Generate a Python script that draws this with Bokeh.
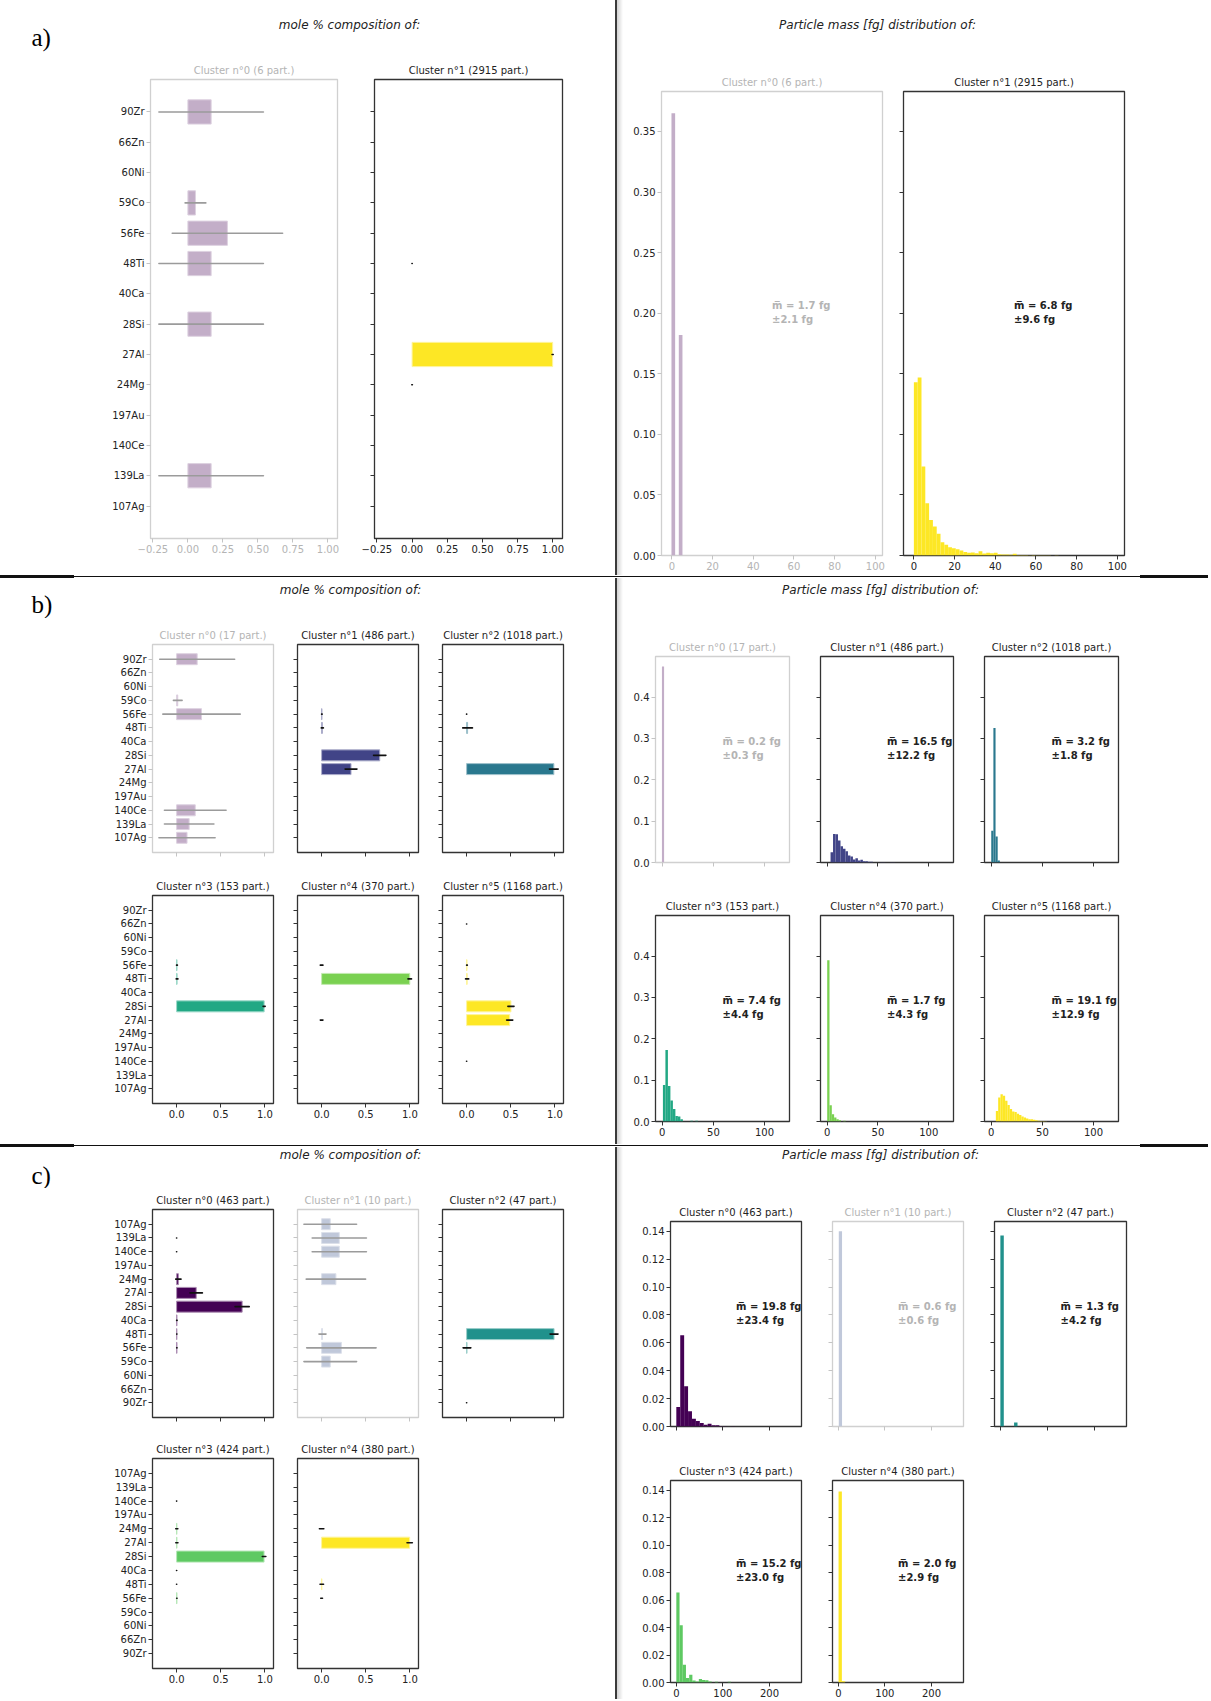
from bokeh.plotting import figure
from bokeh.models import Range1d, FixedTicker, Label, Spacer, CustomJSTickFormatter
from bokeh.layouts import row, column
from bokeh.embed import file_html
from bokeh.resources import INLINE

# ------------------------------------------------------------------ data
ELEMENTS_AB = ["90Zr", "66Zn", "60Ni", "59Co", "56Fe", "48Ti", "40Ca",
               "28Si", "27Al", "24Mg", "197Au", "140Ce", "139La", "107Ag"]
ELEMENTS_C = ["107Ag", "139La", "140Ce", "197Au", "24Mg", "27Al", "28Si",
              "40Ca", "48Ti", "56Fe", "59Co", "60Ni", "66Zn", "90Zr"]

N = None
# ---- a)
A_NPART = [6, 2915]
A_FADED = [True, False]
A_COLORS = ["#440154", "#fde725"]
A_COMP_MEAN = [
    [0.166, N, N, 0.054, 0.282, 0.166, N, 0.166, N, N, N, N, 0.166, N],
    [N, N, N, N, N, 0.0, N, N, 0.998, 0.0, N, N, N, N],
]
A_COMP_STD = [
    [0.373, N, N, 0.074, 0.394, 0.373, N, 0.373, N, N, N, N, 0.373, N],
    [N, N, N, N, N, 0.001, N, N, 0.004, 0.002, N, N, N, N],
]
A_MASS_MEAN = [1.7, 6.8]
A_MASS_STD = [2.1, 9.6]
A_HIST_START = [-0.2, 0.0]
A_HIST_BINW = [1.8, 1.87]
A_HIST = [
    [0.365, 0.0, 0.182],
    [0.143, 0.147, 0.0734, 0.0432, 0.0294, 0.0239, 0.0179, 0.0110, 0.0088,
     0.0069, 0.0060, 0.0052, 0.0041, 0.0028, 0.0022, 0.0025, 0.0019, 0.0036,
     0.0017, 0.0022, 0.0019, 0.0022, 0.0011, 0.0008, 0.0008, 0.0006, 0.0014,
     0.0005, 0.0004, 0.0005, 0.0003, 0.0004, 0.0002, 0.0003, 0.0002, 0.0002,
     0.0001, 0.0002],
]

# ---- b)
B_NPART = [17, 486, 1018, 153, 370, 1168]
B_FADED = [True, False, False, False, False, False]
B_COLORS = ["#440154", "#414487", "#2a788e", "#22a884", "#7ad151", "#fde725"]
B_COMP_MEAN = [
    [0.233, N, N, 0.013, 0.282, N, N, N, N, N, N, 0.211, 0.142, 0.118],
    [N, N, N, N, 0.003, 0.008, N, 0.658, 0.333, N, N, N, N, N],
    [N, N, N, N, 0.0, 0.011, N, N, 0.988, N, N, N, N, N],
    [N, N, N, N, 0.004, 0.005, N, 0.991, N, N, N, N, N, N],
    [N, N, N, N, 0.0, 0.998, N, N, 0.0, N, N, N, N, N],
    [N, 0.0, N, N, 0.004, 0.006, N, 0.502, 0.488, N, N, 0.0, N, N],
]
B_COMP_STD = [
    [0.424, N, N, 0.049, 0.438, N, N, N, N, N, N, 0.349, 0.280, 0.318],
    [N, N, N, N, 0.003, 0.012, N, 0.070, 0.067, N, N, N, N, N],
    [N, N, N, N, 0.001, 0.055, N, N, 0.050, N, N, N, N, N],
    [N, N, N, N, 0.005, 0.010, N, 0.012, N, N, N, N, N, N],
    [N, N, N, N, 0.015, 0.020, N, N, 0.015, N, N, N, N, N],
    [N, 0.001, N, N, 0.004, 0.018, N, 0.035, 0.035, N, N, 0.001, N, N],
]
B_MASS_MEAN = [0.2, 16.5, 3.2, 7.4, 1.7, 19.1]
B_MASS_STD = [0.3, 12.2, 1.8, 4.4, 4.3, 12.9]
B_HIST_START = [-0.3, 3.3, 0.0, 0.65, 0.0, 4.5]
B_HIST_BINW = [2.1, 2.45, 2.1, 2.44, 2.27, 2.27]
B_HIST = [
    [0.474],
    [0.025, 0.069, 0.068, 0.053, 0.039, 0.033, 0.027, 0.017, 0.0145, 0.0072,
     0.0105, 0.005, 0.0064, 0.003, 0.003, 0.0016, 0.0016, 0.0, 0.0, 0.0,
     0.0008, 0.0008, 0.0, 0.0, 0.0008, 0.0008],
    [0.077, 0.325, 0.063, 0.005],
    [0.0884, 0.173, 0.086, 0.051, 0.030, 0.0135, 0.012, 0.0055, 0.0, 0.0, 0.0,
     0.002, 0.0, 0.002],
    [0.390, 0.039, 0.0176, 0.0095, 0.0055, 0.003, 0.0, 0.002],
    [0.0256, 0.058, 0.066, 0.062, 0.050, 0.040, 0.030, 0.024, 0.023, 0.019,
     0.016, 0.012, 0.0095, 0.007, 0.0055, 0.0055, 0.004, 0.003, 0.002, 0.0015,
     0.001, 0.0008],
]

# ---- c)
C_NPART = [463, 10, 47, 424, 380]
C_FADED = [False, True, False, False, False]
C_COLORS = ["#440154", "#3b528b", "#21918c", "#5ec962", "#fde725"]
C_COMP_MEAN = [
    [N, 0.0, 0.0, N, 0.02, 0.222, 0.742, 0.003, 0.002, 0.003, N, N, N, N],
    [0.098, 0.2, 0.2, N, 0.162, N, N, N, 0.01, 0.224, 0.098, N, N, N],
    [N, N, N, N, N, N, N, N, 0.99, 0.004, N, N, N, 0.0],
    [N, N, 0.0, N, 0.002, 0.003, 0.99, 0.0, 0.0, 0.003, N, N, N, N],
    [N, N, N, N, 0.0, 0.997, N, N, 0.002, 0.0, N, N, N, N],
]
C_COMP_STD = [
    [N, 0.001, 0.001, N, 0.03, 0.07, 0.08, 0.003, 0.001, 0.002, N, N, N, N],
    [0.298, 0.307, 0.307, N, 0.336, N, N, N, 0.04, 0.393, 0.298, N, N, N],
    [N, N, N, N, N, N, N, N, 0.045, 0.044, N, N, N, 0.001],
    [N, N, 0.001, N, 0.012, 0.012, 0.02, 0.001, 0.001, 0.002, N, N, N, N],
    [N, N, N, N, 0.025, 0.03, N, N, 0.02, 0.01, N, N, N, N],
]
C_MASS_MEAN = [19.8, 0.6, 1.3, 15.2, 2.0]
C_MASS_STD = [23.4, 0.6, 4.2, 23.0, 2.9]
C_HIST_START = [0.0, 1.0, 0.0, 0.0, 0.5]
C_HIST_BINW = [8.4, 7.0, 7.3, 6.9, 7.1]
C_HIST = [
    [0.014, 0.0654, 0.0288, 0.0109, 0.0056, 0.004, 0.0025, 0.0013, 0.002,
     0.0009, 0.0009, 0.0003, 0.0002, 0.0, 0.0002],
    [0.14],
    [0.137, 0.0, 0.0, 0.0, 0.0028],
    [0.0655, 0.0416, 0.0129, 0.0033, 0.0057, 0.0014, 0.0007, 0.0026, 0.0019,
     0.0017, 0.0007, 0.0, 0.0005, 0.0, 0.0, 0.0, 0.0005],
    [0.139, 0.001],
]

# tick values
COMP_XTICKS_A = [-0.25, 0.0, 0.25, 0.5, 0.75, 1.0]
COMP_XTICKS_BC = [0.0, 0.5, 1.0]
HIST_XTICKS_A = [0, 20, 40, 60, 80, 100]
HIST_YTICKS_A = [0.0, 0.05, 0.1, 0.15, 0.2, 0.25, 0.3, 0.35]
HIST_XTICKS_B = [0, 50, 100]
HIST_YTICKS_B = [0.0, 0.1, 0.2, 0.3, 0.4]
HIST_XTICKS_C = [0, 100, 200]
HIST_YTICKS_C = [0.0, 0.02, 0.04, 0.06, 0.08, 0.1, 0.12, 0.14]

SECTION_TITLE_L = "mole % composition of:"
SECTION_TITLE_R = "Particle mass [fg] distribution of:"

# ------------------------------------------------------------------ style
FONT = "DejaVu Sans"
DARK = "#222222"
SPINE = "#333333"
FADE_SPINE = "#d0d0d0"
FADE_TEXT = "#b4b4b4"
FADE_TICK = "#c4c4c4"


def mix_white(hex_color, a):
    h = hex_color.lstrip("#")
    rgb = [int(h[i:i + 2], 16) for i in (0, 2, 4)]
    return "#" + "".join("%02x" % round(255 * (1 - a) + c * a) for c in rgb)


def new_fig(cx, cy, fx, fy, xr, yr, title, faded):
    cl, cr = cx
    ct, cb = cy
    fl, fr = fx
    ft, fb = fy
    p = figure(width=cr - cl, height=cb - ct,
               x_range=Range1d(*xr), y_range=Range1d(*yr),
               min_border_left=fl - cl, min_border_right=cr - fr,
               min_border_top=ft - ct, min_border_bottom=cb - fb,
               toolbar_location=None, output_backend="svg", title=title)
    p.grid.visible = False
    p.background_fill_color = "white"
    p.border_fill_color = "white"
    p.title.align = "center"
    p.title.text_font = FONT
    p.title.text_font_size = "10px"
    p.title.text_font_style = "normal"
    p.title.text_color = FADE_TEXT if faded else DARK
    p.title.standoff = 8
    p.outline_line_color = FADE_SPINE if faded else SPINE
    p.outline_line_width = 1.3
    return p


def num_fmt(d):
    return CustomJSTickFormatter(
        code="return tick.toFixed(%d).replace('-', '\u2212');" % d)


def style_axis(ax, ticks, formatter, show, tick_color, label_color):
    ax.ticker = FixedTicker(ticks=ticks)
    ax.axis_line_color = None
    ax.major_tick_in = 0
    ax.major_tick_out = 4
    ax.minor_tick_in = 0
    ax.minor_tick_out = 0
    ax.major_tick_line_color = tick_color
    ax.major_tick_line_width = 1
    ax.major_label_standoff = 2
    ax.major_label_text_font = FONT
    ax.major_label_text_color = label_color
    if show:
        ax.formatter = formatter
        ax.major_label_text_font_size = "10px"
    else:
        ax.formatter = CustomJSTickFormatter(code="return '';")
        ax.major_label_text_font_size = "0px"


def comp_panel(cx, cy, fx, fy, xr, elements, mean, std, color, faded,
               title, show_y, show_x, xticks, xdigits):
    pad = 1.07
    yr = (len(elements) - 1 + pad, -pad)
    p = new_fig(cx, cy, fx, fy, xr, yr, title, faded)
    fill = mix_white(color, 0.32) if faded else color
    edge = mix_white(color, 0.18 if faded else 0.45)
    errc = "#9b9b9b" if faded else "#111111"
    present = [i for i, m in enumerate(mean) if m is not None]
    bars = [i for i in present if mean[i] > 0]
    p.hbar(y=bars, left=0, right=[mean[i] for i in bars], height=0.8,
           fill_color=fill, line_color=edge, line_width=1)
    p.segment(x0=[mean[i] - std[i] for i in present], y0=present,
              x1=[mean[i] + std[i] for i in present], y1=present,
              line_color=errc, line_width=1.6, line_cap="round")
    tick_c = FADE_TICK if faded else SPINE
    style_axis(p.xaxis[0], xticks, num_fmt(xdigits), show_x, tick_c,
               FADE_TEXT if faded else DARK)
    style_axis(p.yaxis[0], list(range(len(elements))),
               CustomJSTickFormatter(args=dict(names=elements),
                                     code="return names[Math.round(tick)];"),
               show_y, tick_c, DARK)
    return p


def hist_panel(cx, cy, fx, fy, xr, yr, start, binw, heights, color, faded,
               title, mmean, mstd, show_y, show_x, xticks, yticks, ydigits):
    p = new_fig(cx, cy, fx, fy, xr, yr, title, faded)
    fill = mix_white(color, 0.32) if faded else color
    lefts = [start + i * binw for i in range(len(heights))]
    rights = [l + binw for l in lefts]
    p.quad(left=lefts, right=rights, bottom=0, top=heights,
           fill_color=fill, line_color=None)
    tick_c = FADE_TICK if faded else SPINE
    style_axis(p.xaxis[0], xticks, num_fmt(0), show_x, tick_c,
               FADE_TEXT if faded else DARK)
    style_axis(p.yaxis[0], yticks, num_fmt(ydigits), show_y, tick_c, DARK)
    tc = FADE_TEXT if faded else DARK
    xm = (xr[0] + xr[1]) / 2
    ym = (yr[0] + yr[1]) / 2
    for txt, off in (("m\u0305 = %.1f fg" % mmean, 18),
                     ("\u00b1%.1f fg" % mstd, 4)):
        p.add_layout(Label(x=xm, y=ym, y_offset=off, text=txt,
                           text_align="left", text_baseline="middle",
                           text_font=FONT, text_font_style="bold",
                           text_font_size="10px", text_color=tc))
    return p


def header(x0, x1, y0, y1, title, tpos, letter=None, lpos=None):
    p = figure(width=x1 - x0, height=y1 - y0,
               x_range=Range1d(x0, x1), y_range=Range1d(y1, y0),
               min_border=0, toolbar_location=None, output_backend="svg",
               x_axis_location=None, y_axis_location=None)
    p.grid.visible = False
    p.outline_line_color = None
    p.add_layout(Label(x=tpos[0], y=tpos[1], text=title, text_align="center",
                       text_baseline="middle", text_font=FONT,
                       text_font_style="italic", text_font_size="12px",
                       text_color=DARK))
    if letter:
        p.add_layout(Label(x=lpos[0], y=lpos[1], text=letter,
                           text_align="left", text_baseline="middle",
                           text_font="Liberation Serif", text_font_size="25px",
                           text_color="black"))
    return p


# ------------------------------------------------------------------ layout geometry (page px)
RIGHT_END = 1208
BOTTOM_END = 1699
COLS_L3 = [(0, 285, 152, 273), (285, 430, 297, 418), (430, 615, 442, 563)]
GEOM = {
    "aL": dict(head=(0, 615, 0, 56), tpos=(349, 24), lpos=(31, 37),
               rows=[(56, 575, 79, 538)],
               cols=[(0, 355, 150, 337), (355, 615, 374, 562)]),
    "aR": dict(head=(623, RIGHT_END, 0, 60), tpos=(877, 24),
               rows=[(60, 575, 91, 555)],
               cols=[(623, 892, 661, 882), (892, RIGHT_END, 903, 1124)]),
    "bL": dict(head=(0, 615, 578, 618), tpos=(350, 589.5), lpos=(31, 604),
               rows=[(618, 869, 644, 852), (869, 1144, 895, 1103)],
               cols=COLS_L3),
    "bR": dict(head=(623, RIGHT_END, 578, 628), tpos=(880, 589.5),
               rows=[(628, 880, 656, 862), (880, 1144, 915, 1121)],
               cols=[(623, 804, 655, 789), (804, 969, 820, 953),
                     (969, RIGHT_END, 984, 1118)]),
    "cL": dict(head=(0, 615, 1147, 1188), tpos=(350, 1154), lpos=(31, 1175),
               rows=[(1188, 1432, 1209, 1417), (1432, BOTTOM_END, 1458, 1668)],
               cols=COLS_L3),
    "cR": dict(head=(623, RIGHT_END, 1147, 1192), tpos=(880, 1154),
               rows=[(1192, 1440, 1221, 1426), (1440, BOTTOM_END, 1480, 1682)],
               cols=[(623, 816, 670, 801), (816, 979, 832, 963),
                     (979, RIGHT_END, 994, 1126)]),
}


def build_left(key, letter, elements, npart, faded, colors, means, stds,
               xr, xticks, xdigits):
    g = GEOM[key]
    h = g["head"]
    items = [header(h[0], h[1], h[2], h[3], SECTION_TITLE_L, g["tpos"],
                    letter, g["lpos"])]
    ncol = len(g["cols"])
    nrow = len(g["rows"])
    for r, (ct, cb, ft, fb) in enumerate(g["rows"]):
        figs = []
        for c, (cl, cr, fl, fr) in enumerate(g["cols"]):
            k = r * ncol + c
            if k >= len(npart):
                break
            figs.append(comp_panel(
                (cl, cr), (ct, cb), (fl, fr), (ft, fb), xr, elements,
                means[k], stds[k], colors[k], faded[k],
                "Cluster n\u00b0%d (%d part.)" % (k, npart[k]),
                c == 0, r == nrow - 1, xticks, xdigits))
        items.append(row(*figs))
    return column(*items)


def build_right(key, npart, faded, colors, starts, binws, hists, mm, ms,
                xr, yr, xticks, yticks, ydigits):
    g = GEOM[key]
    h = g["head"]
    items = [header(h[0], h[1], h[2], h[3], SECTION_TITLE_R, g["tpos"])]
    ncol = len(g["cols"])
    nrow = len(g["rows"])
    for r, (ct, cb, ft, fb) in enumerate(g["rows"]):
        figs = []
        for c, (cl, cr, fl, fr) in enumerate(g["cols"]):
            k = r * ncol + c
            if k >= len(npart):
                break
            figs.append(hist_panel(
                (cl, cr), (ct, cb), (fl, fr), (ft, fb), xr, yr,
                starts[k], binws[k], hists[k], colors[k], faded[k],
                "Cluster n\u00b0%d (%d part.)" % (k, npart[k]),
                mm[k], ms[k], c == 0, r == nrow - 1, xticks, yticks, ydigits))
        items.append(row(*figs))
    return column(*items)


def vline(height):
    return Spacer(width=8, height=height, margin=0, styles={
        "background": "linear-gradient(to right, #3a3a3a 0px, #3a3a3a 2px, "
                      "#d2d2d2 2px, #ffffff 8px)"})


def hline():
    return Spacer(width=RIGHT_END, height=3, margin=0, styles={
        "background-image": "linear-gradient(#111,#111), linear-gradient(#111,#111), "
                            "linear-gradient(#111,#111)",
        "background-size": "74px 3px, 100% 1px, 68px 3px",
        "background-position": "left top, left center, right top",
        "background-repeat": "no-repeat"})


aL = build_left("aL", "a)", ELEMENTS_AB, A_NPART, A_FADED, A_COLORS,
                A_COMP_MEAN, A_COMP_STD, (-0.267, 1.068), COMP_XTICKS_A, 2)
aR = build_right("aR", A_NPART, A_FADED, A_COLORS, A_HIST_START, A_HIST_BINW,
                 A_HIST, A_MASS_MEAN, A_MASS_STD, (-5.1, 103.5), (0, 0.383),
                 HIST_XTICKS_A, HIST_YTICKS_A, 2)
bL = build_left("bL", "b)", ELEMENTS_AB, B_NPART, B_FADED, B_COLORS,
                B_COMP_MEAN, B_COMP_STD, (-0.273, 1.097), COMP_XTICKS_BC, 1)
bR = build_right("bR", B_NPART, B_FADED, B_COLORS, B_HIST_START, B_HIST_BINW,
                 B_HIST, B_MASS_MEAN, B_MASS_STD, (-6.6, 124.4), (0, 0.498),
                 HIST_XTICKS_B, HIST_YTICKS_B, 1)
cL = build_left("cL", "c)", ELEMENTS_C, C_NPART, C_FADED, C_COLORS,
                C_COMP_MEAN, C_COMP_STD, (-0.273, 1.097), COMP_XTICKS_BC, 1)
cR = build_right("cR", C_NPART, C_FADED, C_COLORS, C_HIST_START, C_HIST_BINW,
                 C_HIST, C_MASS_MEAN, C_MASS_STD, (-12.5, 268.7), (0, 0.147),
                 HIST_XTICKS_C, HIST_YTICKS_C, 2)

page = column(
    row(aL, vline(575), aR),
    hline(),
    row(bL, vline(566), bR),
    hline(),
    row(cL, vline(BOTTOM_END - 1147), cR),
)

open("out.html", "w").write(file_html(page, INLINE))
